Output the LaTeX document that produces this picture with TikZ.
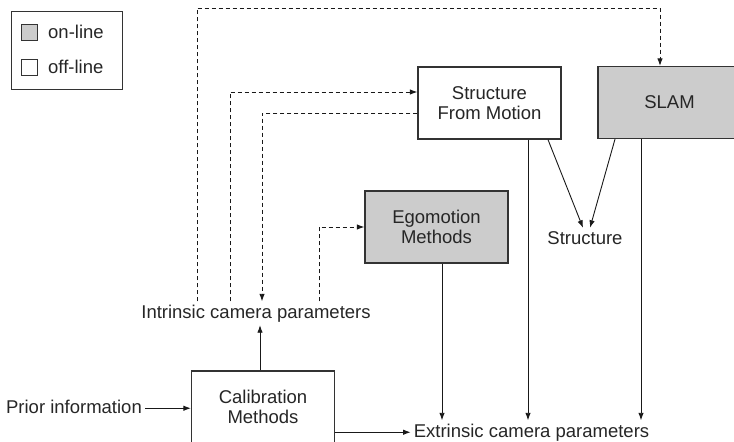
\documentclass[tikz,border=0pt]{standalone}
\usepackage{fontspec}
\setmainfont{Liberation Sans}
\usetikzlibrary{arrows.meta}
\begin{document}
\begin{tikzpicture}[x=1pt,y=-1pt,
  every node/.style={font=\fontsize{18.5}{19.5}\selectfont, text=black!85},
  box/.style={draw=black!80, line width=1.3pt, minimum width=143pt, minimum height=72pt, align=center, inner sep=0pt},
  online/.style={box, fill=black!20},
  offline/.style={box, fill=white},
  lbl/.style={inner sep=3pt, text height=13.5pt, text depth=4pt, anchor=base},
  conn/.style={draw=black!90, line width=0.9pt, -{Latex[length=7.5pt,width=5.5pt]}},
  dconn/.style={conn, dash pattern=on 4pt off 3pt},
  sq/.style={draw=black!80, line width=0.8pt, minimum size=16pt, inner sep=0pt}
]
\useasboundingbox (0,0) rectangle (734,442);
\begin{scope}
\clip (0,0) rectangle (734,442);
% legend
\node[draw=black!80, line width=0.9pt, minimum width=111pt, minimum height=78pt, inner sep=0pt] (legend) at (66.5,50) {};
\node[sq, fill=black!20] (sqon) at (29,32) {};
\node[sq, fill=white] (sqoff) at (29,67.5) {};
\node[anchor=west, inner sep=0pt] (ton) at (48,31.5) {on-line};
\node[anchor=west, inner sep=0pt] (toff) at (48,67) {off-line};
% boxes
\node[offline] (sfm) at (489.5,103) {Structure\\From Motion};
\node[online] (slam) at (669.5,102.5) {SLAM};
\node[online] (ego) at (436.5,227) {Egomotion\\Methods};
\node[offline] (calib) at (263,407) {Calibration\\Methods};
% text nodes
\node[lbl] (intr) at (256,318) {Intrinsic camera parameters};
\node[lbl] (extr) at (531.5,437) {Extrinsic camera parameters};
\node[lbl] (prior) at (74,413) {Prior information};
\node[lbl] (struct) at (585,244.5) {Structure};
% helper coordinates
\coordinate (xa) at (197,0);
\coordinate (xb) at (230,0);
\coordinate (xc) at (262,0);
\coordinate (xd) at (319,0);
\coordinate (ts) at (660,8);
\coordinate (ya) at (0,92);
\coordinate (yb) at (0,113);
\coordinate (xe) at (442,0);
\coordinate (xf) at (528,0);
\coordinate (xg) at (641,0);
\coordinate (xh) at (548,0);
\coordinate (xi) at (615,0);
\coordinate (xj) at (260,0);
% dashed connectors
\draw[dconn] (intr.north -| xa) |- (ts) -- (ts |- slam.north);
\draw[dconn] (intr.north -| xb) |- (sfm.west |- ya);
\draw[dconn] (sfm.west |- yb) -| (intr.north -| xc);
\draw[dconn] (intr.north -| xd) |- (ego.west);
% solid connectors
\draw[conn] (calib.north -| xj) -- (intr.south -| xj);
\draw[conn] (prior.east) -- (calib.west |- prior.east);
\draw[conn] (calib.east |- extr.west) -- (extr.west);
\draw[conn] (ego.south -| xe) -- (extr.north -| xe);
\draw[conn] (sfm.south -| xf) -- (extr.north -| xf);
\draw[conn] (slam.south -| xg) -- (extr.north -| xg);
\draw[conn] (sfm.south -| xh) -- ([xshift=-2pt]struct.north);
\draw[conn] (slam.south -| xi) -- ([xshift=5pt]struct.north);
\end{scope}
\end{tikzpicture}
\end{document}
